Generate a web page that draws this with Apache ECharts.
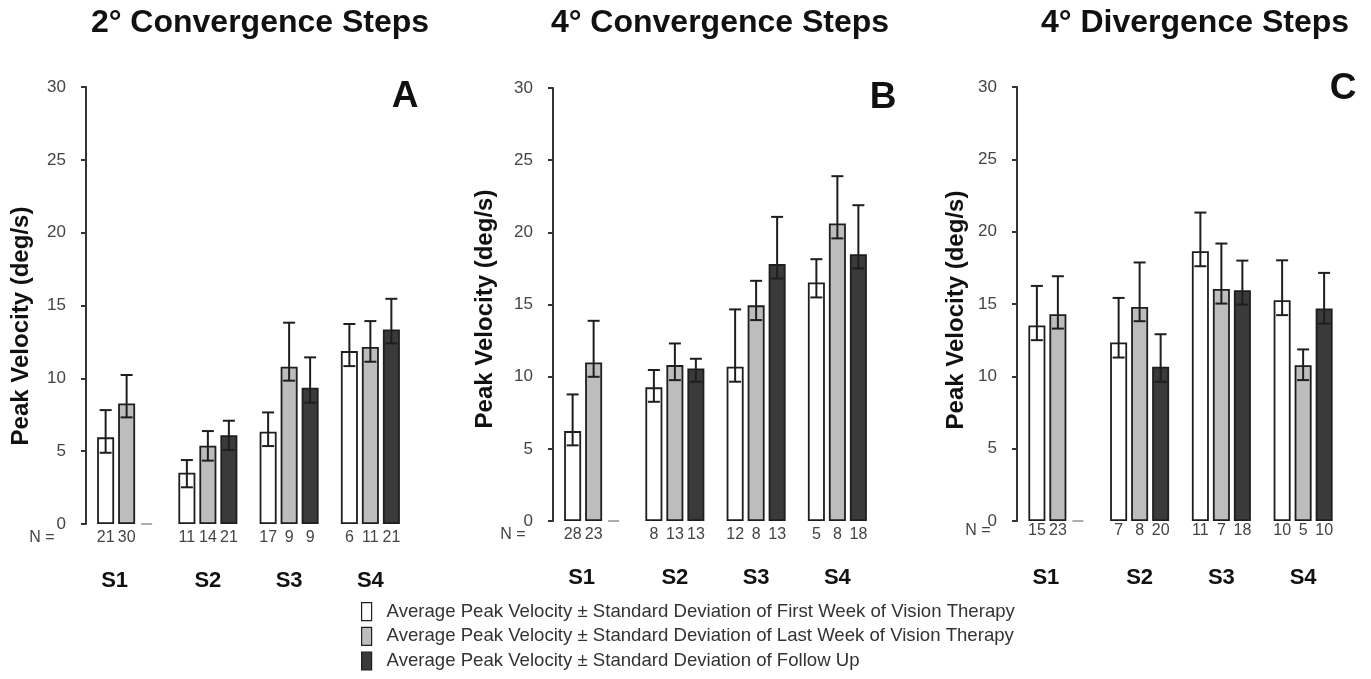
<!DOCTYPE html>
<html>
<head>
<meta charset="utf-8">
<script src="https://cdn.jsdelivr.net/npm/echarts@6/dist/echarts.min.js"></script>
<style>
html,body{margin:0;padding:0;background:#fff;}
#chart{width:1371px;height:679px;}
</style>
</head>
<body>
<div id="chart"></div>
<script>
// ---------- DATA ----------
const categories = ['S1', 'S2', 'S3', 'S4'];
const legendNames = [
  'Average Peak Velocity \u00b1 Standard Deviation of First Week of Vision Therapy',
  'Average Peak Velocity \u00b1 Standard Deviation of Last Week of Vision Therapy',
  'Average Peak Velocity \u00b1 Standard Deviation of Follow Up'
];
const panelTitles = ['2\u00b0 Convergence Steps', '4\u00b0 Convergence Steps', '4\u00b0 Divergence Steps'];
const panelLetters = ['A', 'B', 'C'];
const yTicks = [0, 5, 10, 15, 20, 25, 30];

// Panel A: 2° convergence
const aFirst    = [5.95, 3.52, 6.34, 11.87];
const aFirstHi  = [7.82, 4.39, 7.66, 13.73];
const aFirstLo  = [4.89, 2.52, 5.35, 10.84];
const aLast     = [8.28, 5.38, 10.80, 12.15];
const aLastHi   = [10.23, 6.38, 13.82, 13.93];
const aLastLo   = [7.32, 4.35, 9.84, 11.14];
const aFollow   = [null, 6.09, 9.36, 13.36];
const aFollowHi = [null, 7.09, 11.44, 15.46];
const aFollowLo = [null, 5.08, 8.33, 12.40];
const aNFirst   = [21, 11, 17, 6];
const aNLast    = [30, 14, 9, 11];
const aNFollow  = [null, 21, 9, 21];

// Panel B: 4° convergence
const bFirst    = [6.23, 9.26, 10.69, 16.53];
const bFirstHi  = [8.77, 10.46, 14.66, 18.14];
const bFirstLo  = [5.24, 8.26, 9.65, 15.49];
const bLast     = [10.99, 10.80, 14.94, 20.61];
const bLastHi   = [13.87, 12.30, 16.64, 23.89];
const bLastLo   = [9.99, 9.76, 13.92, 19.58];
const bFollow   = [null, 10.57, 17.80, 18.49];
const bFollowHi = [null, 11.24, 21.07, 21.88];
const bFollowLo = [null, 9.65, 16.80, 17.50];
const bNFirst   = [28, 8, 12, 5];
const bNLast    = [23, 13, 8, 8];
const bNFollow  = [null, 13, 13, 18];

// Panel C: 4° divergence
const cFirst    = [13.51, 12.34, 18.65, 15.26];
const cFirstHi  = [16.25, 15.42, 21.32, 18.02];
const cFirstLo  = [12.50, 11.30, 17.61, 14.23];
const cLast     = [14.30, 14.80, 16.04, 10.77];
const cLastHi   = [16.92, 17.87, 19.18, 11.86];
const cLastLo   = [13.30, 13.81, 15.03, 9.74];
const cFollow   = [null, 10.66, 15.95, 14.69];
const cFollowHi = [null, 12.91, 18.00, 17.15];
const cFollowLo = [null, 9.62, 14.96, 13.65];
const cNFirst   = [15, 7, 11, 10];
const cNLast    = [23, 8, 7, 5];
const cNFollow  = [null, 20, 18, 10];

// ---------- LAYOUT / STYLE ----------
const FONT = '"Liberation Sans", Arial, sans-serif';
const fills = ['#ffffff', '#bdbdbd', '#3a3a3a'];
const edge = '#1e1e1e';
const BAR_W = 17, BAR_GAP_PX = 4;
const offsets = [-(BAR_W + BAR_GAP_PX), 0, BAR_W + BAR_GAP_PX];

const panels = [
  { grid: {left: 86, top: 87, width: 325, height: 437}, nDy: 14,
    means: [aFirst, aLast, aFollow], his: [aFirstHi, aLastHi, aFollowHi], los: [aFirstLo, aLastLo, aFollowLo],
    ns: [aNFirst, aNLast, aNFollow],
    titleX: 260, letter: [405, 97], nEq: [42, 538], yName: [21, 326] },
  { grid: {left: 553, top: 88, width: 325, height: 433}, nDy: 14,
    means: [bFirst, bLast, bFollow], his: [bFirstHi, bLastHi, bFollowHi], los: [bFirstLo, bLastLo, bFollowLo],
    ns: [bNFirst, bNLast, bNFollow],
    titleX: 720, letter: [883, 98], nEq: [513, 535], yName: [485, 309] },
  { grid: {left: 1017, top: 87, width: 327, height: 434}, nDy: 10,
    means: [cFirst, cLast, cFollow], his: [cFirstHi, cLastHi, cFollowHi], los: [cFirstLo, cLastLo, cFollowLo],
    ns: [cNFirst, cNLast, cNFollow],
    titleX: 1195, letter: [1343, 89], nEq: [978, 531], yName: [956, 310] }
];

function makeRender(off, nDy) {
  return function (params, api) {
    const i = api.value(0);
    const base = api.coord([i, 0]);
    const x = base[0] + off;
    const m = api.value(2), hi = api.value(3), lo = api.value(4), n = api.value(5);
    const children = [];
    const ls = {stroke: edge, lineWidth: 2};
    if (!isNaN(m)) {
      const yh = api.coord([i, hi])[1];
      const yl = api.coord([i, lo])[1];
      children.push({type: 'line', shape: {x1: x, y1: yh, x2: x, y2: yl}, style: ls});
      children.push({type: 'line', shape: {x1: x - 6, y1: yh, x2: x + 6, y2: yh}, style: ls});
      children.push({type: 'line', shape: {x1: x - 6, y1: yl, x2: x + 6, y2: yl}, style: ls});
    }
    if (!isNaN(n)) {
      children.push({type: 'text', x: x, y: base[1] + nDy,
        style: {text: String(n), font: '16px ' + FONT, fill: '#444',
          align: 'center', verticalAlign: 'middle', textAlign: 'center', textVerticalAlign: 'middle'}});
    }
    return {type: 'group', children: children};
  };
}

const grids = [], xAxes = [], yAxes = [], series = [], graphics = [];
panels.forEach(function (p, k) {
  grids.push(p.grid);
  xAxes.push({
    type: 'category', gridIndex: k, data: categories,
    axisLine: {show: false}, axisTick: {show: false},
    axisLabel: {
      margin: 46, interval: 0,
      formatter: function (v, idx) { return p.means[2][idx] == null ? '{s|' + v + '}' : '{n|' + v + '}'; },
      rich: {
        n: {fontSize: 22, fontWeight: 'bold', fontFamily: FONT, color: '#111'},
        s: {fontSize: 22, fontWeight: 'bold', fontFamily: FONT, color: '#111', padding: [0, 24, 0, 0]}
      }
    }
  });
  yAxes.push({
    type: 'value', gridIndex: k, min: yTicks[0], max: yTicks[yTicks.length - 1], interval: 5,
    axisLine: {show: true, lineStyle: {color: '#333', width: 2}},
    axisTick: {show: true, inside: false, length: 5, lineStyle: {color: '#333', width: 2}},
    axisLabel: {fontSize: 17, fontFamily: FONT, color: '#444', margin: 20},
    splitLine: {show: false}
  });
  for (let s = 0; s < 3; s++) {
    series.push({
      type: 'bar', name: legendNames[s], xAxisIndex: k, yAxisIndex: k,
      data: p.means[s].map(function (v) { return v == null ? '-' : v; }),
      barWidth: BAR_W, barGap: (BAR_GAP_PX / BAR_W * 100) + '%',
      itemStyle: {color: fills[s], borderColor: edge, borderWidth: 1.8},
      silent: true, z: 2
    });
  }
  for (let s = 0; s < 3; s++) {
    series.push({
      type: 'custom', xAxisIndex: k, yAxisIndex: k, silent: true, z: 5,
      renderItem: makeRender(offsets[s], p.nDy),
      encode: {x: 0, y: 1},
      data: categories.map(function (c, i) {
        const m = p.means[s][i];
        return [i, 0, m == null ? '-' : m, m == null ? '-' : p.his[s][i], m == null ? '-' : p.los[s][i],
                p.ns[s][i] == null ? '-' : p.ns[s][i]];
      })
    });
  }
  // dash marking the missing follow-up bar
  series.push({
    type: 'scatter', xAxisIndex: k, yAxisIndex: k, silent: true, z: 4,
    symbol: 'rect', symbolSize: [11, 1.5], symbolOffset: [20, 0],
    itemStyle: {color: '#777'},
    data: categories.map(function (c, i) { return p.means[2][i] == null ? [i, 0] : null; })
                    .filter(function (d) { return d; })
  });

  graphics.push({type: 'text', x: p.titleX, y: 23, silent: true,
    style: {text: panelTitles[k], font: 'bold 32px ' + FONT, fill: '#111',
      align: 'center', verticalAlign: 'middle', textAlign: 'center', textVerticalAlign: 'middle'}});
  graphics.push({type: 'text', x: p.letter[0], y: p.letter[1], silent: true,
    style: {text: panelLetters[k], font: 'bold 37px ' + FONT, fill: '#111',
      align: 'center', verticalAlign: 'middle', textAlign: 'center', textVerticalAlign: 'middle'}});
  graphics.push({type: 'text', x: p.nEq[0], y: p.nEq[1], silent: true,
    style: {text: 'N =', font: '16px ' + FONT, fill: '#444',
      align: 'center', verticalAlign: 'middle', textAlign: 'center', textVerticalAlign: 'middle'}});
  graphics.push({type: 'text', x: p.yName[0], y: p.yName[1], rotation: Math.PI / 2, silent: true,
    style: {text: 'Peak Velocity (deg/s)', font: 'bold 24px ' + FONT, fill: '#111',
      align: 'center', verticalAlign: 'middle', textAlign: 'center', textVerticalAlign: 'middle'}});
});

const chart = echarts.init(document.getElementById('chart'), null, {renderer: 'canvas'});
chart.setOption({
  backgroundColor: '#fff',
  animation: false,
  grid: grids,
  xAxis: xAxes,
  yAxis: yAxes,
  legend: {
    orient: 'vertical', left: 361, top: 602, icon: 'rect', padding: 0, height: 77,
    itemWidth: 10, itemHeight: 18, itemGap: 5.5, selectedMode: false,
    textStyle: {fontSize: 18.6, lineHeight: 18, fontFamily: FONT, color: '#333', padding: [0, 0, 0, 10]},
    data: legendNames.map(function (n, s) {
      return {name: n, itemStyle: {color: fills[s], borderColor: edge, borderWidth: 1.2}};
    })
  },
  graphic: graphics,
  series: series
});
</script>
</body>
</html>
